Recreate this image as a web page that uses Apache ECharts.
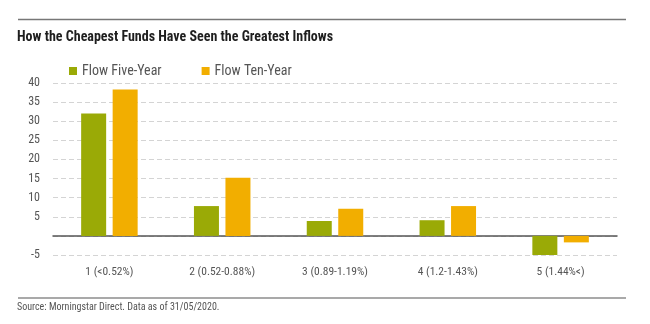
<!DOCTYPE html>
<html>
<head>
<meta charset="utf-8">
<script src="https://cdn.jsdelivr.net/npm/echarts@6/dist/echarts.min.js"></script>
<style>
  html, body { margin: 0; padding: 0; background: #fff; }
  #chart { width: 650px; height: 324px; }
</style>
</head>
<body>
<div id="chart"></div>
<script>
// Expense-ratio quintiles and net flows per quintile
const categories = ['1 (<0.52%)', '2 (0.52-0.88%)', '3 (0.89-1.19%)', '4 (1.2-1.43%)', '5 (1.44%<)'];
const flowFiveYear = [32.0, 7.8, 3.9, 4.1, -5.0];
const flowTenYear = [38.3, 15.2, 7.1, 7.8, -1.7];
const seriesNames = ['Flow Five-Year', 'Flow Ten-Year'];
const titleText = 'How the Cheapest Funds Have Seen the Greatest Inflows';
const sourceText = 'Source: Morningstar Direct. Data as of 31/05/2020.';

const FONT = '"Roboto Condensed", "Roboto", sans-serif';
const GREEN = '#9aaa06';
const ORANGE = '#f2ae00';

const chart = echarts.init(document.getElementById('chart'), null, { renderer: 'canvas' });
chart.setOption({
  animation: false,
  backgroundColor: '#fff',
  textStyle: { fontFamily: FONT },
  title: {
    text: titleText,
    left: 17,
    top: 30,
    padding: 0,
    textStyle: { fontFamily: FONT, fontSize: 14, fontWeight: 'bold', color: '#1e1e1e' }
  },
  graphic: [
    { type: 'line', shape: { x1: 18, y1: 19.5, x2: 626, y2: 19.5 }, style: { stroke: '#777', lineWidth: 1.5 } },
    { type: 'line', shape: { x1: 18, y1: 298, x2: 626, y2: 298 }, style: { stroke: '#555', lineWidth: 1.2 } },
    { type: 'text', left: 17, top: 302, style: { text: sourceText, font: '10px ' + FONT, fill: '#555' } }
  ],
  legend: {
    left: 64,
    top: 59,
    itemWidth: 8,
    itemHeight: 8,
    itemGap: 40,
    icon: 'rect',
    textStyle: { fontFamily: FONT, fontSize: 14, color: '#555' },
    data: seriesNames
  },
  grid: { left: 53, right: 33, top: 83, bottom: 69, containLabel: false },
  xAxis: {
    type: 'category',
    data: categories,
    axisLine: { onZero: true, lineStyle: { color: '#555', width: 1.5 } },
    axisTick: { show: false },
    axisLabel: { fontFamily: FONT, fontSize: 11.5, color: '#555', margin: 11 }
  },
  yAxis: {
    type: 'value',
    min: -5,
    max: 40,
    interval: 5,
    axisLine: { show: false },
    axisTick: { show: false },
    axisLabel: {
      fontFamily: FONT, fontSize: 12, color: '#555', margin: 13,
      formatter: v => (v === 0 ? '' : String(v))
    },
    splitLine: { lineStyle: { color: '#d4d4d4', type: [5, 3], width: 1 } }
  },
  series: [
    {
      name: seriesNames[0], type: 'bar', data: flowFiveYear,
      barWidth: 25, barGap: '26%',
      itemStyle: { color: GREEN }
    },
    {
      name: seriesNames[1], type: 'bar', data: flowTenYear,
      barWidth: 25, barGap: '26%',
      itemStyle: { color: ORANGE }
    }
  ]
});
</script>
</body>
</html>
